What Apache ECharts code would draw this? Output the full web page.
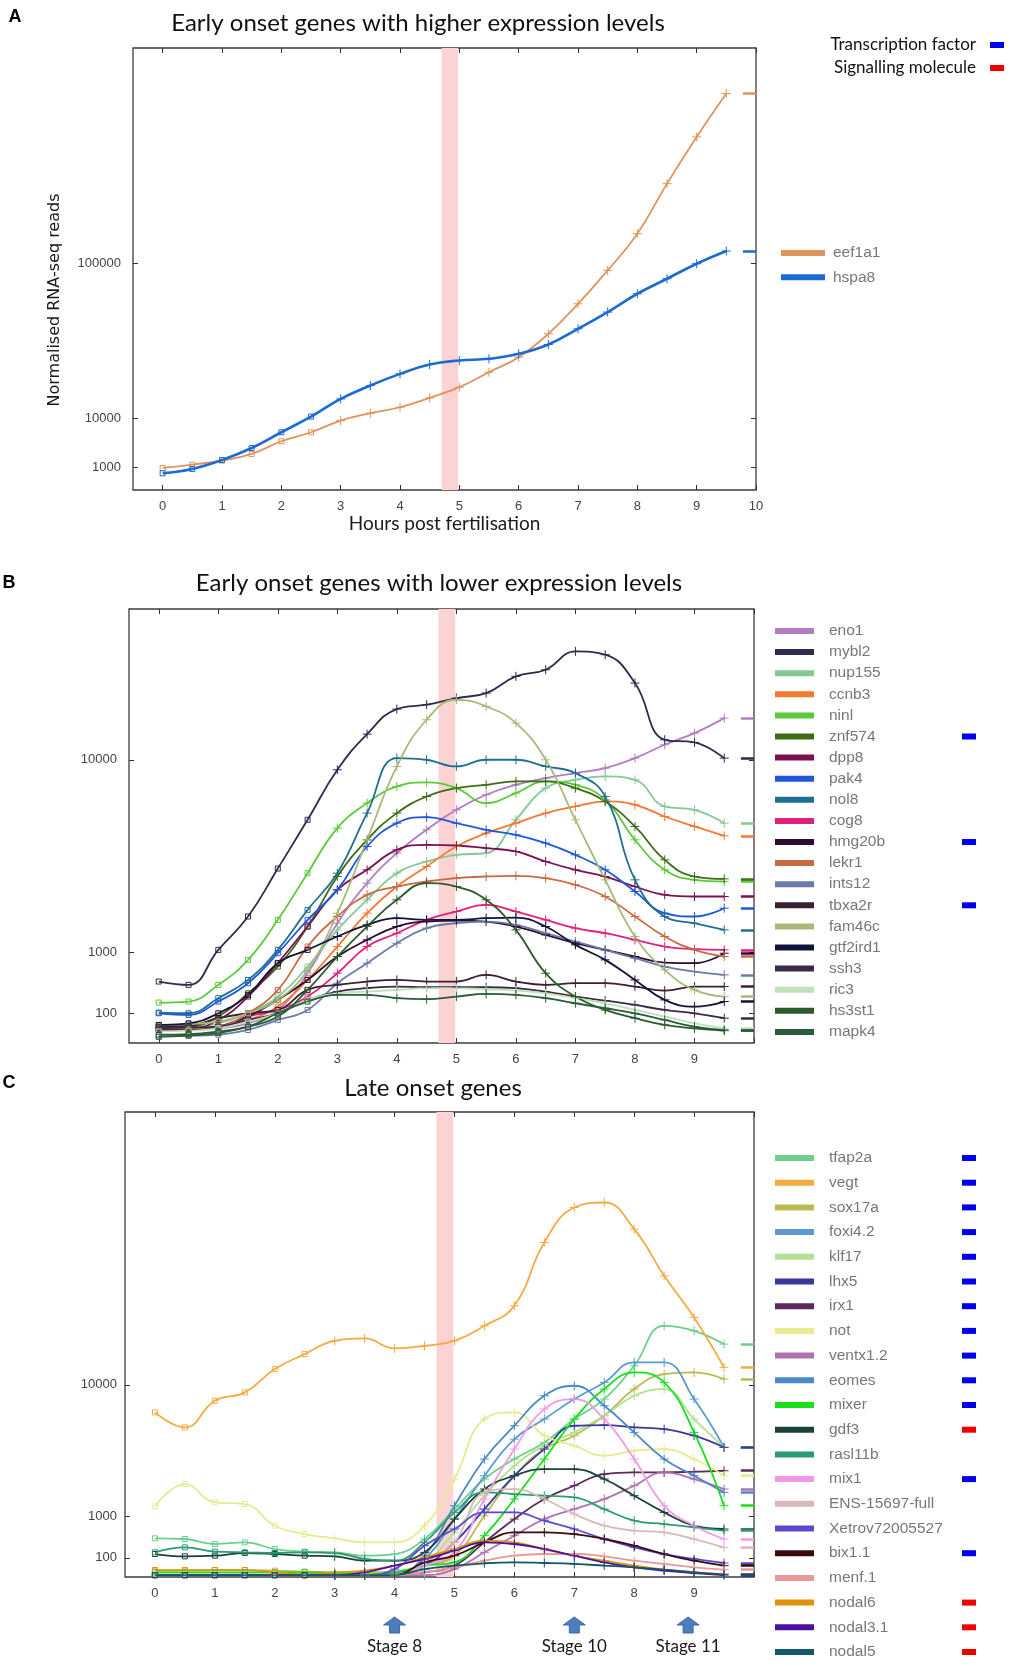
<!DOCTYPE html>
<html><head><meta charset="utf-8">
<script src="https://cdn.jsdelivr.net/npm/echarts@6/dist/echarts.min.js"></script>
<style>html,body{margin:0;padding:0;background:#fff}#chart{width:1010px;height:1666px}</style>
</head><body><div id="chart"></div>
<script>
// Sampling times (hours post fertilisation)
const hours = [0,0.5,1,1.5,2,2.5,3,3.5,4,4.5,5,5.5,6,6.5,7,7.5,8,8.5,9,9.5];

// ---- Panel A: early onset, higher expression ----
const eef1a1 = [942,1249,1675,2523,4611,6475,9360,11444,13300,16480,20530,26960,34270,47390,67350,93660,127600,182300,242100,305300];
const hspa8  = [541,859,1752,3434,6475,10470,16125,21190,26200,30580,32580,33420,36010,41120,50470,61470,74800,86670,99430,110900];

// ---- Panel B: early onset, lower expression ----
const eno1     = [17,17,22,42,126,589,1765,3160,4473,5648,6766,7670,8303,8741,9076,9417,10118,11094,11983,13177];
const mybl2    = [454,405,1059,1970,3772,6193,9303,11905,13921,14287,14857,15294,16793,17411,19171,18846,16185,11470,11269,10118];
const nup155   = [28,22,42,101,255,709,1572,2530,3571,4084,4392,4471,6193,8090,8630,8852,8630,6961,6765,6008];
const ccnb3    = [17,17,28,59,154,479,1137,2076,3028,3860,4793,5470,6008,6572,6961,7260,7060,6381,5827,5332];
const ninl     = [192,202,405,841,1866,3571,5737,7160,8196,8455,8090,7160,7774,8521,8304,7361,5126,3714,3294,3227];
const znf574   = [28,28,79,294,709,1667,3431,5126,6572,7566,8090,8304,8521,8521,8090,7260,5827,4160,3431,3335];
const dpp8     = [22,22,59,255,774,1667,2900,3714,4630,4875,4842,4711,4550,4084,3714,3431,3028,2711,2650,2650];
const pak4     = [101,90,202,429,983,1866,2900,4793,6008,6343,6008,5647,5384,4958,4392,3714,2836,2076,1970,2241];
const nol8     = [106,101,237,479,1059,2185,3571,6572,10118,10000,9532,10000,10000,9532,9076,7566,3294,1970,1765,1572];
const cog8     = [17,19,28,79,126,255,589,1137,1479,1866,2130,2354,2130,1866,1619,1479,1303,1137,1075,1059];
const hmg20b   = [17,19,28,79,219,479,911,1303,1667,1815,1845,1815,1667,1434,1219,1059,911,787,774,983];
const lekr1    = [22,22,28,101,336,1137,1970,2711,3028,3227,3363,3431,3460,3363,3094,2650,1970,1390,1059,911];
const ints12   = [3,4,6,17,59,126,429,774,1219,1619,1765,1815,1716,1479,1260,1059,875,709,618,560];
const tbxa2r   = [28,31,69,101,126,336,405,454,479,454,454,560,454,405,429,429,381,328,381,381];
const fam46c   = [35,39,50,101,219,647,2076,5126,9532,13042,14714,14144,12773,10000,6193,3294,1390,647,336,255];
const gtf2ird1 = [35,42,101,275,774,1059,1390,1716,1917,1866,1866,1917,1938,1667,1178,841,479,219,154,202];
const ssh3     = [22,25,28,59,101,219,315,359,381,372,372,372,359,315,255,212,169,126,101,69];
const ric3     = [13,15,22,50,101,219,294,315,336,359,359,345,328,294,237,185,126,79,42,22];
const hs3st1   = [3,5,9,28,79,336,911,1667,2530,3160,3028,2530,1572,589,255,126,69,35,22,15];
const mapk4    = [6,7,13,28,101,202,275,275,237,226,255,286,275,237,185,140,101,59,28,17];

// ---- Panel C: late onset ----
const tfap2a   = [405,391,295,325,212,174,165,123,143,391,1251,2599,3768,4907,6755,8575,12086,17093,16420,14690];
const vegt     = [7338,6062,8414,9228,11707,13456,15110,15410,14155,14480,15110,17090,19920,30310,36980,37990,32770,24570,18250,11900];
const sox17a   = [11,11,13,13,11,8,6,6,8,35,123,1018,2779,4434,5405,7044,9565,11151,11335,10609];
const foxi4_2  = [1,1,1,1,1,1,1,1,2,88,910,2779,5153,6755,8575,10255,12470,12470,8575,4550];
const klf17    = [2,2,2,2,2,2,2,2,6,58,540,1790,3354,4668,5664,7044,8898,9565,6755,4550];
const lhx5     = [1,1,1,1,1,1,1,1,6,35,325,1251,2779,4434,6197,6252,6062,5927,5405,4550];
const irx1     = [1,1,1,1,1,1,1,1,1,6,35,325,910,1646,2257,2871,2965,2965,3002,3059];
const not      = [1351,2340,1509,1442,713,500,405,325,325,713,2599,6755,7338,5405,4668,3984,4319,4434,3768,2779];
const ventx1_2 = [1,1,1,1,1,1,1,1,1,1,17,165,462,910,1251,1646,2257,2965,2599,2096];
const eomes    = [1,1,1,1,1,1,1,1,1,123,1377,3768,6197,8898,9907,7944,5664,3768,2779,1940];
const mixer    = [6,6,6,6,6,6,4,2,6,35,58,462,1646,3768,6755,9565,11335,10255,5664,1377];
const gdf3     = [143,116,123,156,143,123,116,72,72,165,910,2096,2779,3156,3156,2599,1790,1132,713,624];
const rasl11b  = [165,238,174,165,156,165,156,88,72,325,1132,1940,1864,1790,1718,1251,859,760,668,581];
const mix1     = [1,1,1,1,1,1,1,1,1,35,165,1646,4434,7637,8575,6755,3768,1377,713,391];
const ens15697 = [1,1,1,1,1,1,1,1,1,58,325,1940,2096,1646,1074,713,581,540,391,238];
const xetrov   = [1,1,1,1,1,1,1,1,17,266,624,1132,1132,859,624,391,238,143,88,53];
const bix1_1   = [1,1,1,1,1,1,1,1,1,58,123,325,540,540,500,391,266,143,72,35];
const menf1    = [1,1,1,1,1,1,1,1,1,6,25,72,123,143,143,116,72,46,25,15];
const nodal6   = [13,13,13,13,6,2,6,11,35,105,212,357,325,212,123,72,35,15,6,2];
const nodal3_1 = [1,1,1,1,1,1,1,6,35,88,188,325,295,212,123,58,25,11,4,1];
const nodal5   = [1,1,1,1,1,1,1,1,1,17,35,51,58,53,46,35,25,15,6,2];

// Gene names, colours and values per panel
const namesA  = ['eef1a1','hspa8'];
const coloursA = ['#df935d','#1b6bd3'];
const valuesA = [eef1a1, hspa8];

const namesB = ['eno1','mybl2','nup155','ccnb3','ninl','znf574','dpp8','pak4','nol8','cog8','hmg20b','lekr1','ints12','tbxa2r','fam46c','gtf2ird1','ssh3','ric3','hs3st1','mapk4'];
const coloursB = ['#b27dc2','#2e2c4e','#84c995','#f27a32','#5cc93d','#3f6c14','#7c1152','#2059d8','#1f6f8f','#e1207b','#2c0c30','#c86b45','#6b7ba9','#3b2131','#a9b97a','#13133b','#3b2b4b','#c0e1b9','#2b5b2b','#2b5b3b'];
const valuesB = [eno1,mybl2,nup155,ccnb3,ninl,znf574,dpp8,pak4,nol8,cog8,hmg20b,lekr1,ints12,tbxa2r,fam46c,gtf2ird1,ssh3,ric3,hs3st1,mapk4];

const namesC = ['tfap2a','vegt','sox17a','foxi4.2','klf17','lhx5','irx1','not','ventx1.2','eomes','mixer','gdf3','rasl11b','mix1','ENS-15697-full','Xetrov72005527','bix1.1','menf.1','nodal6','nodal3.1','nodal5'];
const coloursC = ['#6dcf8d','#f5aa42','#b9ba52','#5b9bd1','#b1e191','#3939a1','#5b2b5b','#e6ea91','#b171b1','#4b89c9','#19e019','#1b4139','#2b9b71','#f199e9','#d9b9b9','#5b49d1','#3b0b0b','#e99999','#e1910b','#4b11a1','#115969'];
const valuesC = [tfap2a,vegt,sox17a,foxi4_2,klf17,lhx5,irx1,not,ventx1_2,eomes,mixer,gdf3,rasl11b,mix1,ens15697,xetrov,bix1_1,menf1,nodal6,nodal3_1,nodal5];

// Gene categories shown beside the legends
const transcriptionFactors = ['znf574','hmg20b','tbxa2r','tfap2a','vegt','sox17a','foxi4.2','klf17','lhx5','irx1','not','ventx1.2','eomes','mixer','mix1','bix1.1'];
const signallingMolecules = ['gdf3','nodal6','nodal3.1','nodal5'];

// Axis ticks
const yTicksA = [1000, 10000, 100000];
const yTicksB = [100, 1000, 10000];
const yTicksC = [100, 1000, 10000];
const xTicks = [0,1,2,3,4,5,6,7,8,9,10];
const xLabelsA = [0,1,2,3,4,5,6,7,8,9,10];
const xLabelsBC = [0,1,2,3,4,5,6,7,8,9];

// Mid-blastula band and developmental stages
const mbtBand = [4.7, 4.98];
const stageHours = [4, 7, 8.9];
const stageLabels = ['Stage 8', 'Stage 10', 'Stage 11'];

const titles = ['Early onset genes with higher expression levels','Early onset genes with lower expression levels','Late onset genes'];

// ------------------------------------------------------------------
const chart = echarts.init(document.getElementById('chart'), null, {renderer:'canvas'});

const PLUS = 'path://M5,0L5,10M0,5L10,5';
const NUM_FONT = "'Liberation Sans Narrow','Liberation Sans',Arial,sans-serif";
const SANS = "'Liberation Sans',Arial,sans-serif";
const HUMAN = "Lato,'Open Sans',sans-serif";

// Plot areas (one per panel) and sqrt-scaled y ranges
const grids = [
  {left:133, top:48, width:623, height:442},
  {left:129, top:609, width:625, height:434},
  {left:125, top:1112, width:629, height:465}
];
const yRange = [[0, 616], [-0.5, 153.5], [0, 242]];
const yTicks = [yTicksA, yTicksB, yTicksC];
const xLabels = [xLabelsA, xLabelsBC, xLabelsBC];

const xAxes = [], yAxes = [];
grids.forEach((g, p) => {
  const tickStyle = {inside:true, length:5, lineStyle:{color:'#333', width:1}};
  xAxes.push({
    gridIndex:p, type:'value', min:-0.5, max:10, position:'bottom',
    axisLine:{show:false, onZero:false}, splitLine:{show:false},
    axisTick:Object.assign({customValues:xTicks}, tickStyle),
    axisLabel:{customValues:xLabels[p], color:'#444', fontSize:13, fontFamily:NUM_FONT, margin:10},
    name: p === 0 ? 'Hours post fertilisation' : '',
    nameLocation:'middle', nameGap:24,
    nameTextStyle:{fontFamily:HUMAN, fontSize:19, color:'#1a1a1a'}
  });
  xAxes.push({
    gridIndex:p, type:'value', min:-0.5, max:10, position:'top',
    axisLine:{show:false, onZero:false}, splitLine:{show:false},
    axisTick:Object.assign({customValues:xTicks}, tickStyle),
    axisLabel:{show:false}
  });
  const tv = yTicks[p].map(v => Math.sqrt(v));
  yAxes.push({
    gridIndex:p, type:'value', min:yRange[p][0], max:yRange[p][1], position:'left',
    axisLine:{show:false, onZero:false}, splitLine:{show:false},
    axisTick:Object.assign({customValues:tv}, tickStyle),
    axisLabel:{customValues:tv, formatter:v => String(Math.round(v*v)), color:'#444', fontSize:13, fontFamily:NUM_FONT, margin:p === 2 ? 8 : 12}
  });
  yAxes.push({
    gridIndex:p, type:'value', min:yRange[p][0], max:yRange[p][1], position:'right',
    axisLine:{show:false, onZero:false}, splitLine:{show:false},
    axisTick:Object.assign({customValues:tv}, tickStyle),
    axisLabel:{show:false}
  });
});

const series = [];
// pink band behind the curves in every panel
grids.forEach((g, p) => {
  series.push({
    type:'line', name:'band'+p, xAxisIndex:p*2, yAxisIndex:p*2, data:[], silent:true, z:1,
    markArea:{silent:true, itemStyle:{color:'#fcd3d3'}, data:[[{xAxis:mbtBand[0]},{xAxis:mbtBand[1]}]]}
  });
});

function addPanel(p, names, colours, values, width) {
  names.forEach((name, i) => {
    const c = colours[i];
    const vals = values[i];
    const last = Math.sqrt(vals[vals.length - 1]);
    series.push({
      type:'line', name, xAxisIndex:p*2, yAxisIndex:p*2,
      data: hours.map((h, k) => ({
        value:[h, Math.sqrt(vals[k])],
        symbol: h < 3 ? 'rect' : PLUS,
        symbolSize: h < 3 ? 5 : 9
      })),
      smooth:0.45, showAllSymbol:true, silent:true, z:3,
      color:c,
      lineStyle:{color:c, width:width[i] || width[0]},
      itemStyle:{color:'none', borderColor:c, borderWidth:1},
      emphasis:{disabled:true},
      markLine:{
        silent:true, symbol:['none','none'], label:{show:false}, animation:false,
        lineStyle:{color:c, width:2.5, type:'solid'},
        data:[[{coord:[9.78, last]}, {coord:[10, last]}]]
      }
    });
  });
}
addPanel(0, namesA, coloursA, valuesA, [1.8, 2.6]);
addPanel(1, namesB, coloursB, valuesB, [1.8]);
addPanel(2, namesC, coloursC, valuesC, [1.8]);

function legendFor(names, colours, left, top, gap, iconW, textPad) {
  return {
    orient:'vertical', left, top, padding:0, itemGap:gap, itemWidth:iconW, itemHeight:4, icon:'rect',
    selectedMode:false,
    data:names.map((n, i) => ({name:n, itemStyle:{color:colours[i]}})),
    formatter: n => transcriptionFactors.includes(n) ? `{n|${n}}{tf|}` :
                    signallingMolecules.includes(n) ? `{n|${n}}{sm|}` : `{n|${n}}`,
    textStyle:{
      rich:{
        n:{fontFamily:SANS, fontSize:15.5, color:'#777', lineHeight:16, width:133, padding:[0,0,0,textPad]},
        tf:{backgroundColor:'#0000f0', width:14, height:6},
        sm:{backgroundColor:'#f00000', width:14, height:6}
      }
    }
  };
}

chart.setOption({
  animation:false,
  grid: grids.map(g => Object.assign({show:true, borderColor:'#3d3d3d', borderWidth:1.3, backgroundColor:'transparent'}, g)),
  xAxis:xAxes, yAxis:yAxes, series,
  legend:[
    legendFor(namesA, coloursA, 781, 245, 8.3, 42, 4),
    legendFor(namesB, coloursB, 775, 623, 5.1, 37, 11),
    legendFor(namesC, coloursC, 775, 1150, 8.7, 37, 11)
  ]
});

// Annotations: titles, panel letters, axis name, category key, stage arrows
const g = [];
const titlePos = [[418, 23], [439, 583], [433, 1088]];
titles.forEach((t, i) => g.push({type:'text', x:titlePos[i][0], y:titlePos[i][1],
  style:{text:t, fontFamily:HUMAN, fontSize:24, fill:'#111', align:'center', verticalAlign:'middle'}}));
[['A', 15, 17], ['B', 9, 583], ['C', 9, 1083]].forEach(([t, x, y]) => g.push({type:'text', x, y,
  style:{text:t, fontFamily:SANS, fontWeight:'bold', fontSize:18, fill:'#000', align:'center', verticalAlign:'middle'}}));
g.push({type:'text', x:55, y:300, rotation:Math.PI/2,
  style:{text:'Normalised RNA-seq reads', fontFamily:"'DejaVu Sans',sans-serif", fontSize:16, fill:'#1a1a1a', align:'center', verticalAlign:'middle'}});
[['Transcription factor', 45, '#0000f0'], ['Signalling molecule', 68, '#f00000']].forEach(([t, y, c]) => {
  g.push({type:'text', x:976, y, style:{text:t, fontFamily:HUMAN, fontSize:17, fill:'#111', align:'right', verticalAlign:'middle'}});
  g.push({type:'rect', shape:{x:990, y:y-3, width:14, height:6}, style:{fill:c}});
});
stageHours.forEach((h, i) => {
  const cx = chart.convertToPixel({xAxisIndex:4}, h);
  const y0 = 1617;
  g.push({type:'polygon', shape:{points:[[cx-11,y0+8],[cx,y0],[cx+11,y0+8],[cx+5,y0+8],[cx+5,y0+16],[cx-5,y0+16],[cx-5,y0+8]]},
    style:{fill:'#4d7dbd', stroke:'#3b69a6', lineWidth:1}});
  g.push({type:'text', x:cx, y:1647, style:{text:stageLabels[i], fontFamily:HUMAN, fontSize:17, fill:'#1a1a1a', align:'center', verticalAlign:'middle'}});
});
chart.setOption({graphic:g});
</script>
</body></html>
